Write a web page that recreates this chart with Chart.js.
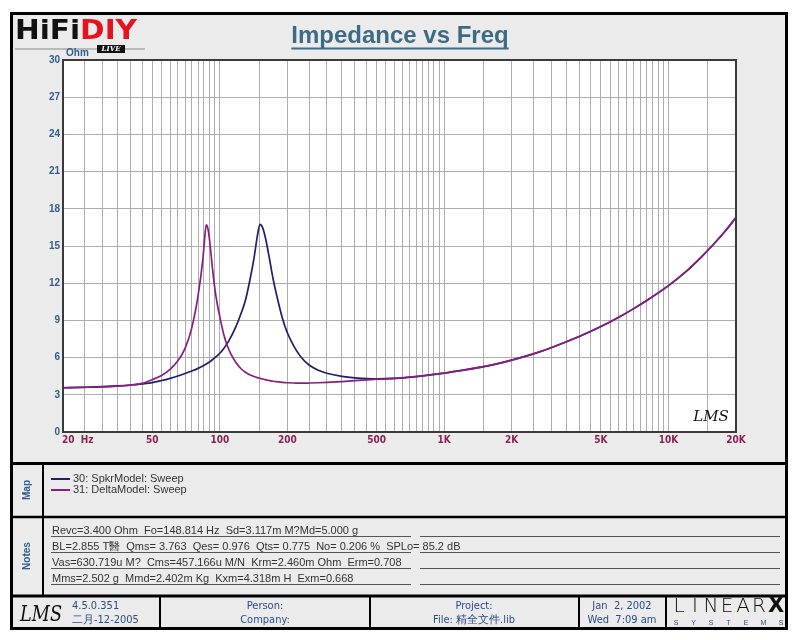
<!DOCTYPE html>
<html>
<head>
<meta charset="utf-8">
<title>Impedance vs Freq</title>
<script src="https://cdn.jsdelivr.net/npm/chart.js@4.4.1/dist/chart.umd.min.js"></script>
<style>
  html, body { margin: 0; padding: 0; background: #fff; }
  canvas { display: block; }
</style>
</head>
<body>
<canvas id="chart-impedance" width="800" height="640"></canvas>
<script>
// frequency points (Hz)
const freqs = [20, 25, 30, 35, 40, 45, 50, 55, 60, 65, 70, 75, 80, 84, 85.5, 87, 88.5, 90, 93, 96,
  100, 104, 108, 112, 118, 124, 130, 136, 142, 147, 151, 155, 160, 166, 173, 180, 190, 200, 215, 230,
  250, 275, 300, 350, 400, 500, 600, 700, 800, 1000, 1200, 1500, 2000, 2500, 3000, 4000, 5000,
  6000, 7000, 8000, 10000, 12000, 14000, 16000, 18000, 20000];

// impedance (Ohm)
const spkrModel = [3.57, 3.61, 3.66, 3.72, 3.79, 3.88, 3.98, 4.15, 4.33, 4.52, 4.72, 4.92, 5.13, 5.32, 5.40, 5.48, 5.56, 5.65, 5.85, 6.05,
  6.35, 6.72, 7.15, 7.65, 8.50, 9.50, 10.6, 12.2, 14.0, 15.8, 16.75, 16.5, 15.6, 14.1, 12.3, 10.9, 9.2, 8.0, 6.85, 6.05,
  5.4, 4.98, 4.74, 4.49, 4.37, 4.28, 4.32, 4.42, 4.53, 4.75, 4.97, 5.27, 5.80, 6.30, 6.80, 7.70, 8.50,
  9.25, 9.95, 10.6, 11.8, 12.95, 14.1, 15.2, 16.25, 17.3];

const deltaModel = [3.56, 3.60, 3.64, 3.70, 3.78, 3.92, 4.22, 4.55, 5.05, 5.75, 6.75, 8.4, 11.0, 13.9, 15.5, 16.7, 16.4, 15.5, 13.0, 11.0,
  9.3, 7.9, 6.95, 6.3, 5.6, 5.12, 4.82, 4.62, 4.48, 4.39, 4.33, 4.27, 4.21, 4.15, 4.09, 4.05, 4.00, 3.97, 3.95, 3.94,
  3.95, 3.97, 4.00, 4.07, 4.14, 4.26, 4.32, 4.42, 4.53, 4.75, 4.97, 5.27, 5.80, 6.30, 6.80, 7.70, 8.50,
  9.25, 9.95, 10.6, 11.8, 12.95, 14.1, 15.2, 16.25, 17.3];

const xTickValues = [20, 50, 100, 200, 500, 1000, 2000, 5000, 10000, 20000];
const xTickLabels = ['20  Hz', '50', '100', '200', '500', '1K', '2K', '5K', '10K', '20K'];
const seriesNames = ['30: SpkrModel: Sweep', '31: DeltaModel: Sweep'];
const seriesColors = ['#1f1f6e', '#8a1e7e'];

const notes = [
  'Revc=3.400 Ohm  Fo=148.814 Hz  Sd=3.117m M?Md=5.000 g',
  'BL=2.855 T醫  Qms= 3.763  Qes= 0.976  Qts= 0.775  No= 0.206 %  SPLo= 85.2 dB',
  'Vas=630.719u M?  Cms=457.166u M/N  Krm=2.460m Ohm  Erm=0.708',
  'Mms=2.502 g  Mmd=2.402m Kg  Kxm=4.318m H  Exm=0.668'
];

// log grid: half steps in every decade
const gridValues = [];
[10, 100, 1000, 10000].forEach(d => {
  for (let m = 1; m < 10; m += 0.5) {
    const v = m * d;
    if (v >= 20 && v <= 20000) gridValues.push(v);
  }
});
gridValues.push(20000);

const SANS = "'Liberation Sans', Arial, sans-serif";
const NARROW = "'Liberation Sans Narrow', 'DejaVu Sans Condensed', sans-serif";
const BLUE = '#2f5d8c';

function line(ctx, x1, y1, x2, y2, w, c) {
  ctx.beginPath();
  ctx.lineWidth = w;
  ctx.strokeStyle = c;
  ctx.moveTo(x1, y1);
  ctx.lineTo(x2, y2);
  ctx.stroke();
}

// draws text squeezed into a given width
function fitText(ctx, t, x, y, w) {
  const tw = ctx.measureText(t).width;
  ctx.save();
  ctx.translate(x, y);
  ctx.scale(Math.min(1, w / tw), 1);
  ctx.fillText(t, 0, 0);
  ctx.restore();
}

const frame = {
  id: 'frame',
  beforeDraw(chart) {
    const { ctx, chartArea: a } = chart;
    ctx.save();
    ctx.fillStyle = '#fff';
    ctx.fillRect(0, 0, 800, 640);
    ctx.fillStyle = '#ebebeb';
    ctx.fillRect(10, 12, 778, 618);
    ctx.fillStyle = '#fff';
    ctx.fillRect(a.left, a.top, a.width, a.height);
    ctx.restore();
  },
  afterDraw(chart) {
    const { ctx, chartArea: a, scales: { x } } = chart;
    ctx.save();

    // plot border
    ctx.lineWidth = 2;
    ctx.strokeStyle = '#3a3a3a';
    ctx.strokeRect(a.left, a.top, a.width, a.height);

    // x tick labels
    ctx.fillStyle = '#8b2150';
    ctx.font = 'bold 10px ' + NARROW;
    ctx.textBaseline = 'middle';
    xTickValues.forEach((v, i) => {
      const px = x.getPixelForValue(v);
      ctx.textAlign = i === 0 ? 'left' : 'center';
      ctx.fillText(xTickLabels[i], i === 0 ? px - 1 : px, 440);
    });

    // title
    ctx.font = 'bold 24px ' + SANS;
    ctx.fillStyle = '#3d6b86';
    ctx.textAlign = 'center';
    ctx.textBaseline = 'alphabetic';
    ctx.fillText('Impedance vs Freq', 400, 43);
    const tw = ctx.measureText('Impedance vs Freq').width;
    line(ctx, 400 - tw / 2, 48.5, 400 + tw / 2, 48.5, 2, '#3d6b86');

    // LMS signature in plot
    ctx.fillStyle = '#111';
    ctx.font = 'italic 15px ' + "'DejaVu Serif', serif";
    ctx.textAlign = 'center';
    ctx.fillText('LMS', 711, 421);

    // outer frame and section rules
    ctx.lineWidth = 3;
    ctx.strokeStyle = '#000';
    ctx.strokeRect(11.5, 13.5, 775, 615);
    line(ctx, 10, 463.5, 788, 463.5, 3, '#000');
    line(ctx, 10, 517, 788, 517, 2.5, '#000');
    line(ctx, 10, 596, 788, 596, 3, '#000');
    line(ctx, 43, 463, 43, 596, 2, '#000');
    [160, 370, 579, 666].forEach(sx => line(ctx, sx, 596, sx, 629, 2, '#000'));

    // HiFiDIY logo
    ctx.font = 'bold 27px ' + "'DejaVu Sans Condensed', 'DejaVu Sans', sans-serif";
    ctx.textAlign = 'left';
    const w1 = ctx.measureText('HiFi').width;
    const w2 = ctx.measureText('DIY').width;
    const sc = 122 / (w1 + w2);
    ctx.save();
    ctx.translate(15, 39);
    ctx.scale(sc, 1);
    ctx.fillStyle = '#111';
    ctx.fillText('HiFi', 0, 0);
    ctx.fillStyle = '#e3141d';
    ctx.fillText('DIY', w1, 0);
    ctx.restore();
    line(ctx, 15, 49, 145, 49, 1, '#888');
    ctx.fillStyle = '#111';
    ctx.fillRect(97, 45, 28, 8);
    ctx.fillStyle = '#fff';
    ctx.font = 'italic bold 7px ' + "'DejaVu Serif', serif";
    ctx.textAlign = 'center';
    ctx.textBaseline = 'middle';
    ctx.fillText('LIVE', 111, 49.5);

    // unit
    ctx.fillStyle = BLUE;
    ctx.font = 'bold 10px ' + SANS;
    ctx.textAlign = 'left';
    ctx.fillText('Ohm', 66, 53);

    // side labels
    ctx.textAlign = 'center';
    [['Map', 490], ['Notes', 556]].forEach(([t, cy]) => {
      ctx.save();
      ctx.translate(27, cy);
      ctx.rotate(-Math.PI / 2);
      ctx.fillText(t, 0, 0);
      ctx.restore();
    });

    // map legend
    ctx.font = '11px ' + SANS;
    ctx.textAlign = 'left';
    seriesNames.forEach((n, i) => {
      const ly = 479 + i * 11;
      line(ctx, 51, ly, 70, ly, 2, seriesColors[i]);
      ctx.fillStyle = '#333';
      ctx.fillText(n, 73, ly);
    });

    // notes
    ctx.textBaseline = 'alphabetic';
    notes.forEach((n, i) => {
      const ly = 536 + i * 16;
      ctx.fillStyle = '#333';
      ctx.fillText(n, 52, ly - 2);
      line(ctx, 51, ly + 0.5, 411, ly + 0.5, 1.2, '#555');
      line(ctx, 420, ly + 0.5, 780, ly + 0.5, 1.2, '#555');
    });

    // footer
    ctx.fillStyle = '#111';
    ctx.font = 'italic 22px ' + "'DejaVu Serif', serif";
    ctx.textAlign = 'left';
    fitText(ctx, 'LMS', 20, 621, 42);
    ctx.fillStyle = '#2a4b86';
    ctx.font = '11px ' + NARROW;
    ctx.textBaseline = 'middle';
    ctx.fillText('4.5.0.351', 72, 606);
    ctx.fillText('二月-12-2005', 72, 620);
    ctx.textAlign = 'center';
    ctx.fillText('Person:', 265, 606);
    ctx.fillText('Company:', 265, 620);
    ctx.fillText('Project:', 474, 606);
    ctx.fillText('File: 精全文件.lib', 474, 620);
    ctx.fillText('Jan  2, 2002', 622, 606);
    ctx.fillText('Wed  7:09 am', 622, 620);

    // LINEARX
    ctx.textBaseline = 'alphabetic';
    ctx.textAlign = 'center';
    ctx.fillStyle = '#111';
    ctx.font = '200 20px ' + "'DejaVu Sans', sans-serif";
    'LINEAR'.split('').forEach((ch, i) => ctx.fillText(ch, 679 + i * 16, 612));
    ctx.font = 'bold 21px ' + "'DejaVu Sans', sans-serif";
    ctx.fillText('X', 776, 612);
    ctx.fillStyle = '#2a4b86';
    ctx.font = '7px ' + SANS;
    'SYSTEMS'.split('').forEach((ch, i) => ctx.fillText(ch, 676 + i * 17.5, 625));

    ctx.restore();
  }
};

const data = {
  datasets: [
    {
      label: seriesNames[0],
      data: freqs.map((f, i) => ({ x: f, y: spkrModel[i] })),
      borderColor: seriesColors[0],
      order: 1
    },
    {
      label: seriesNames[1],
      data: freqs.map((f, i) => ({ x: f, y: deltaModel[i] })),
      borderColor: seriesColors[1],
      order: 0
    }
  ]
};

const config = {
  type: 'line',
  data: data,
  options: {
    responsive: false,
    animation: false,
    layout: { padding: { left: 0, top: 60, right: 64, bottom: 208 } },
    elements: {
      point: { radius: 0 },
      line: { borderWidth: 1.7, cubicInterpolationMode: 'monotone', fill: false }
    },
    scales: {
      x: {
        type: 'logarithmic',
        min: 20,
        max: 20000,
        afterBuildTicks: scale => { scale.ticks = gridValues.map(v => ({ value: v })); },
        afterFit: scale => { scale.height = 0; },
        ticks: { display: false },
        grid: { color: '#adadad', drawTicks: false },
        border: { display: false }
      },
      y: {
        min: 0,
        max: 30,
        afterFit: scale => { scale.width = 63; },
        ticks: {
          stepSize: 3,
          padding: 3,
          color: BLUE,
          font: { family: SANS, size: 10, weight: 'bold' }
        },
        grid: { color: '#adadad', drawTicks: false },
        border: { display: false }
      }
    },
    plugins: {
      legend: false,
      tooltip: { enabled: false }
    }
  },
  plugins: [frame]
};

new Chart('chart-impedance', config);
</script>
</body>
</html>
